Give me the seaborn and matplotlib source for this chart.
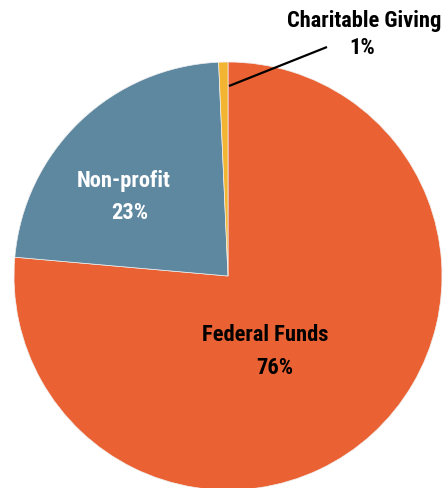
import matplotlib
matplotlib.use("Agg")
import matplotlib.pyplot as plt
import seaborn as sns

categories = ["Federal Funds", "Non-profit", "Charitable Giving"]
values = [76.4, 22.9, 0.7]
pct_labels = ["76%", "23%", "1%"]
colors = ["#EA6234", "#5E87A0", "#F3B531"]

sns.set_theme(style="white")
plt.rcParams['font.family'] = ['Roboto Condensed', 'DejaVu Sans']

W, H = 445, 489
fig = plt.figure(figsize=(W / 100, H / 100), dpi=100)
ax = fig.add_axes([0, 0, 1, 1])

cx, cy, r = 228, 277, 214
ax.pie(values, colors=colors, startangle=90, counterclock=False, radius=1,
       center=(0, 0), wedgeprops=dict(linewidth=0.5, edgecolor="#f0f0f0"))
ax.set_aspect('auto')
ax.set_xlim(-cx / r, (W - cx) / r)
ax.set_ylim((cy - H) / r, cy / r)
ax.axis('off')

def fx(px):
    return px / W

def fy(py):
    return 1 - py / H

font = dict(fontsize=16.2, fontweight='semibold', ha='center', va='center',
            transform=fig.transFigure)
ax.text(fx(265), fy(335), categories[0], color='black', **font)
ax.text(fx(275), fy(368), pct_labels[0], color='black', **font)
ax.text(fx(124), fy(181), categories[1], color='white', **font)
ax.text(fx(130), fy(213), pct_labels[1], color='white', **font)
ax.text(fx(364), fy(21), categories[2], color='black', **font)
ax.text(fx(362), fy(48), pct_labels[2], color='black', **font)
ax.plot([fx(229), fx(327)], [fy(87), fy(48)], color='black', lw=1.6,
        transform=fig.transFigure, solid_capstyle='butt')

fig.savefig("out.png", dpi=100)
